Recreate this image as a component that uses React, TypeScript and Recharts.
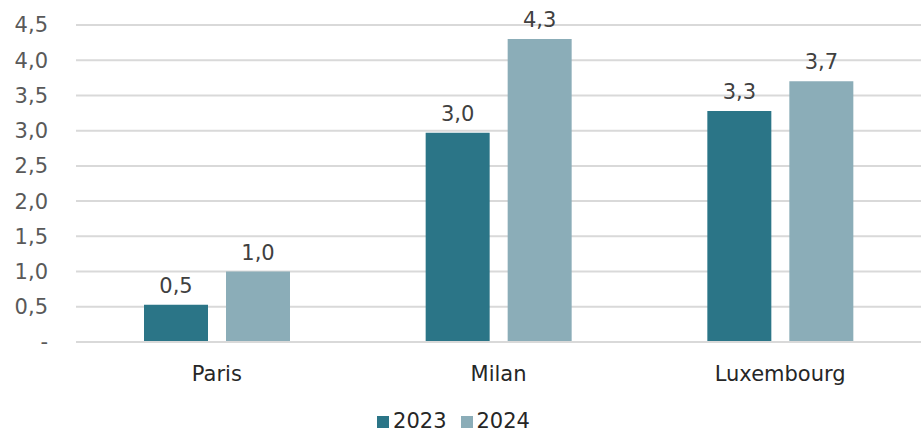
import React from 'react';
import { BarChart, Bar, XAxis, YAxis, CartesianGrid, Legend, LabelList } from 'recharts';

const cities = ['Paris', 'Milan', 'Luxembourg'];
const values2023 = [0.53, 2.97, 3.28];
const values2024 = [1.0, 4.3, 3.7];
const yTicks = [0, 0.5, 1, 1.5, 2, 2.5, 3, 3.5, 4, 4.5];

const data = cities.map((city, i) => ({ city, y2023: values2023[i], y2024: values2024[i] }));

const FONT = '"DejaVu Sans", "Noto Sans", sans-serif';
const fmt = (v: number) => (v === 0 ? '-' : Number(v).toFixed(1).replace('.', ','));

const App: React.FC = () => {
  return (
    <div style={{ position: 'absolute', left: 0, top: 0, width: 921, height: 436, background: '#fff', fontFamily: FONT }}>
      <BarChart
        width={921}
        height={436}
        data={data}
        margin={{ top: 25, right: 0, left: 0, bottom: 10 }}
        barGap={18}
        barCategoryGap={68}
      >
        <CartesianGrid vertical={false} stroke="#d9d9d9" strokeWidth={2} />
        <XAxis
          dataKey="city"
          axisLine={{ stroke: '#d9d9d9', strokeWidth: 2 }}
          tickLine={false}
          tickMargin={18}
          height={60}
          tick={{ fill: '#262626', fontSize: 21, fontFamily: FONT }}
        />
        <YAxis
          domain={[0, 4.5]}
          ticks={yTicks}
          interval={0}
          width={76}
          axisLine={false}
          tickLine={false}
          tickSize={0}
          tickMargin={28}
          tickFormatter={fmt}
          tick={{ fill: '#595959', fontSize: 21, fontFamily: FONT }}
        />
        <Legend
          verticalAlign="bottom"
          align="center"
          iconType="square"
          iconSize={12}
          wrapperStyle={{ fontSize: 21, fontFamily: FONT, bottom: 3 }}
          formatter={(value) => <span style={{ color: '#262626', marginRight: 4 }}>{value}</span>}
        />
        <Bar dataKey="y2023" name="2023" fill="#2b7587" isAnimationActive={false}>
          <LabelList dataKey="y2023" position="top" offset={12} formatter={fmt} fill="#404040" fontSize={21} fontFamily={FONT} />
        </Bar>
        <Bar dataKey="y2024" name="2024" fill="#8badb8" isAnimationActive={false}>
          <LabelList dataKey="y2024" position="top" offset={12} formatter={fmt} fill="#404040" fontSize={21} fontFamily={FONT} />
        </Bar>
      </BarChart>
    </div>
  );
};

export default App;
